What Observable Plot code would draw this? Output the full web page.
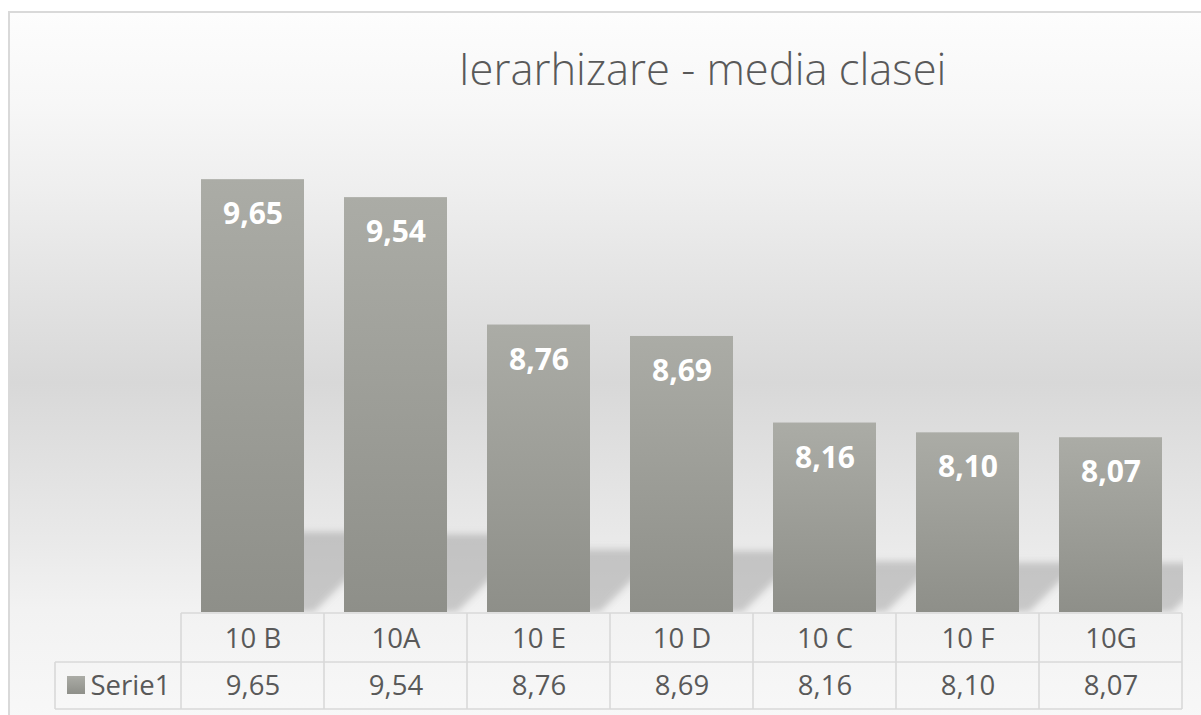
<!DOCTYPE html>
<html>
<head>
<meta charset="utf-8">
<script src="https://cdn.jsdelivr.net/npm/d3@7"></script>
<script src="https://cdn.jsdelivr.net/npm/@observablehq/plot@0.6"></script>
<style>
  html, body { margin: 0; padding: 0; background: #ffffff; }
  #wrap { position: relative; width: 1201px; height: 715px; overflow: hidden; }
  #bg {
    position: absolute; left: 8px; top: 11px; width: 1200px; height: 710px;
    border-left: 2px solid #d9d9d9; border-top: 2px solid #d9d9d9;
    background: linear-gradient(to bottom, #fdfdfd 0%, #f7f7f7 12.6%, #efefef 24%, #d8d8d8 52%, #e9e9e9 74%, #f2f2f2 84%, #f8f8f8 100%);
  }
  #chart { position: absolute; left: 0; top: 0; }
</style>
</head>
<body>
<div id="wrap"><div id="bg"></div><div id="chart"></div></div>
<script>
const title = "Ierarhizare - media clasei";
const seriesName = "Serie1";
const categories = ["10 B", "10A", "10 E", "10 D", "10 C", "10 F", "10G"];
const values = [9.65, 9.54, 8.76, 8.69, 8.16, 8.10, 8.07];
const yDomain = [7, 10];

const data = categories.map((c, i) => ({cat: c, value: values[i]}));
const fmt = v => d3.format(".2f")(v).replace(".", ",");
const textColor = "#595959";
const gridColor = "#d9d9d9";

// gradients
function defsMark() {
  const g = d3.create("svg:g");
  const defs = g.append("defs");
  const lg = defs.append("linearGradient").attr("id", "barGrad")
    .attr("x1", 0).attr("y1", 0).attr("x2", 0).attr("y2", 1);
  lg.append("stop").attr("offset", "0%").attr("stop-color", "#abaca6");
  lg.append("stop").attr("offset", "100%").attr("stop-color", "#8e8f89");
  defs.append("filter").attr("id", "shBlur").attr("x", "-20%").attr("y", "-20%")
    .attr("width", "140%").attr("height", "140%")
    .append("feGaussianBlur").attr("stdDeviation", 3.5);
  return g.node();
}

// perspective shadows behind bars, derived from data through scales
function shadowMark(index, scales, vals, dims) {
  const {x, y} = scales;
  const g = d3.create("svg:g");
  const base = y(yDomain[0]);
  const fx0 = dims.marginLeft, fx1 = dims.width - dims.marginRight;
  const fy0 = dims.marginTop;
  g.append("clipPath").attr("id", "shClip").append("rect")
    .attr("x", fx0).attr("y", fy0).attr("width", fx1 - fx0).attr("height", base - fy0);
  const inner = g.append("g").attr("clip-path", "url(#shClip)")
    .append("g").attr("filter", "url(#shBlur)");
  const bw = x.bandwidth();
  data.forEach(d => {
    const x0 = x(d.cat), x1 = x0 + bw;
    const h = base - y(d.value);
    const H = 0.12 * h + 28;
    const pts = [[x0 + 15, base], [x1 + 10, base], [x1 + 10 + H, base - H], [x0 + 15 + H, base - H]];
    inner.append("polygon").attr("points", pts.map(p => p.join(",")).join(" "))
      .attr("fill", "#8c8c8c").attr("fill-opacity", 0.42);
  });
  return g.node();
}

// data table grid and legend key
function tableMark(index, scales, vals, dims) {
  const {x} = scales;
  const g = d3.create("svg:g");
  const step = x.step(), bw = x.bandwidth();
  const off = (step - bw) / 2;
  const edges = categories.map(c => x(c) - off);
  edges.push(x(categories[categories.length - 1]) + bw + off);
  const left = edges[0], right = edges[edges.length - 1];
  const base = dims.height - dims.marginBottom;
  const r0 = base + 1, r1 = base + 50, r2 = base + 97;
  const keyLeft = left - 126;
  const line = (xa, ya, xb, yb) => g.append("line")
    .attr("x1", xa).attr("y1", ya).attr("x2", xb).attr("y2", yb)
    .attr("stroke", gridColor).attr("stroke-width", 1.6);
  line(left, r0, right, r0);
  line(keyLeft, r1, right, r1);
  line(keyLeft, r2, right, r2);
  line(keyLeft, r1, keyLeft, r2);
  edges.forEach(e => line(e, r0, e, r2));
  g.append("rect").attr("x", keyLeft + 12).attr("y", r1 + 14)
    .attr("width", 18).attr("height", 18).attr("fill", "url(#barGrad)");
  return g.node();
}

const chart = Plot.plot({
  width: 1201,
  height: 715,
  marginTop: 122,
  marginBottom: 103,
  marginLeft: 179,
  marginRight: 18,
  style: {background: "transparent", fontFamily: "'Open Sans', sans-serif", overflow: "visible"},
  x: {domain: categories, paddingInner: 0.28, paddingOuter: 0.14, axis: null},
  y: {domain: yDomain, axis: null},
  marks: [
    defsMark,
    shadowMark,
    Plot.barY(data, {x: "cat", y1: yDomain[0], y2: "value", fill: "url(#barGrad)"}),
    Plot.text(data, {x: "cat", y: "value", text: d => fmt(d.value), dy: 35, lineAnchor: "middle",
      fill: "white", fontWeight: "bold", fontSize: 30}),
    tableMark,
    Plot.text(data, {x: "cat", text: "cat", frameAnchor: "bottom", lineAnchor: "middle", dy: 26.5,
      fill: textColor, fontSize: 27.5}),
    Plot.text(data, {x: "cat", text: d => fmt(d.value), frameAnchor: "bottom", lineAnchor: "middle", dy: 74,
      fill: textColor, fontSize: 27.5}),
    Plot.text([seriesName], {frameAnchor: "bottom-left", lineAnchor: "middle", dx: -89, dy: 74, textAnchor: "start",
      fill: textColor, fontSize: 27.5}),
    Plot.text([title], {frameAnchor: "top", lineAnchor: "middle", dx: 21, dy: -51, fill: textColor,
      fontSize: 43.5, fontWeight: 300})
  ]
});
document.getElementById("chart").appendChild(chart);
</script>
</body>
</html>
